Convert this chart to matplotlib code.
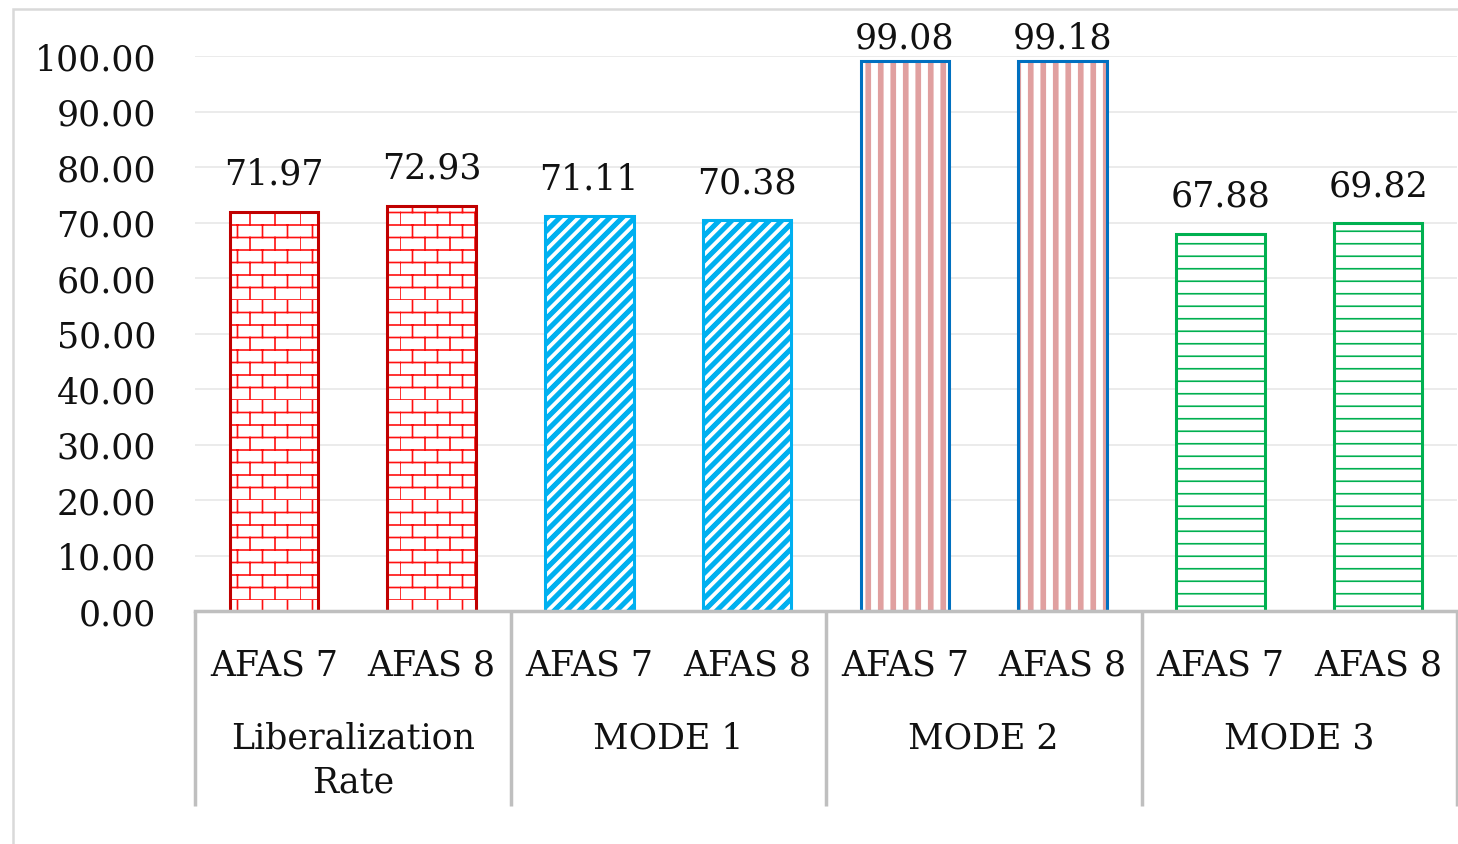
import warnings
import numpy as np
import matplotlib
matplotlib.use("Agg")
import matplotlib.pyplot as plt
from matplotlib import hatch as mhatch
from matplotlib.path import Path
from matplotlib.patches import Rectangle
import matplotlib.transforms as mtransforms

warnings.filterwarnings("ignore")

# ---------------- data ----------------
groups = ["Liberalization\nRate", "MODE 1", "MODE 2", "MODE 3"]
sub_labels = ["AFAS 7", "AFAS 8"]
lib_rate = [71.97, 72.93]
mode1 = [71.11, 70.38]
mode2 = [99.08, 99.18]
mode3 = [67.88, 69.82]
yticks = [0, 10, 20, 30, 40, 50, 60, 70, 80, 90, 100]


# ---------------- custom hatches ----------------
def _segments(ch):
    segs = []
    if ch == 'b':  # bricks
        rows = 8
        for i in range(rows):
            y0 = i / rows
            y1 = (i + 1) / rows
            segs.append((0.0, y0, 1.0, y0))
            off = 0.125 if i % 2 else 0.0
            for k in range(4):
                x = k / 4 + off
                segs.append((x, y0, x, y1))
    elif ch == 'h':  # horizontal lines
        n = 8
        for i in range(n):
            y = (i + 0.5) / n
            segs.append((0.0, y, 1.0, y))
    elif ch == 'v':  # thick vertical stripes
        n = 8
        for i in range(n):
            x = (i + 0.3) / n
            for d in (0.0, 0.01, 0.02, 0.03, 0.04):
                segs.append((x + d, 0.0, x + d, 1.0))
    elif ch == 'd':  # thick diagonal stripes
        n = 8
        for i in range(-n, n + 1):
            s = i / n
            for d in (0.0, 0.012, 0.024, 0.036, 0.048):
                segs.append((s + d, 0.0, s + d + 1.0, 1.0))
    return segs


class CustomHatch(mhatch.HatchPatternBase):
    def __init__(self, hatch, density):
        self.segs = []
        for ch in "bhvd":
            if ch in hatch:
                self.segs += _segments(ch)
        self.num_vertices = 2 * len(self.segs)

    def set_vertices_and_codes(self, vertices, codes):
        for i, (x0, y0, x1, y1) in enumerate(self.segs):
            vertices[2 * i] = (x0, y0)
            vertices[2 * i + 1] = (x1, y1)
            codes[2 * i] = Path.MOVETO
            codes[2 * i + 1] = Path.LINETO


mhatch._hatch_types.append(CustomHatch)

plt.rcParams['font.family'] = ['DejaVu Serif']
plt.rcParams['hatch.linewidth'] = 1.2

W, H = 1458, 845
fig = plt.figure(figsize=(W / 100, H / 100), dpi=100)
ax = fig.add_axes([195 / W, 1 - 612 / H, (1457 - 195) / W, (612 - 57) / H])

text_color = '#111111'
fs = 25

series = [lib_rate, mode1, mode2, mode3]
styles = [
    dict(hatch_color='#FF1010', edge='#C00000', hatch='b'),
    dict(hatch_color='#00B0F0', edge='#00B0F0', hatch='d'),
    dict(hatch_color='#E0A0A0', edge='#0070C0', hatch='v'),
    dict(hatch_color='#00B050', edge='#00B050', hatch='h'),
]
bw = 0.56
for gi, (vals, st) in enumerate(zip(series, styles)):
    xs = np.arange(2) + 2 * gi
    ax.bar(xs, vals, width=bw, color='white', edgecolor=st['hatch_color'],
           hatch=st['hatch'], linewidth=0, zorder=3)
    ax.bar(xs, vals, width=bw, color='none', edgecolor=st['edge'],
           linewidth=2.2, zorder=4)
    for x, v in zip(xs, vals):
        ax.text(x, min(v + 6.9, 103.3), f"{v:.2f}", ha='center', va='center',
                fontsize=fs, color=text_color, clip_on=False, zorder=5)

ax.set_xlim(-0.5, 7.5)
ax.set_ylim(0, 100)
ax.set_yticks(yticks)
ax.set_yticklabels([f"{t:.2f}" for t in yticks], fontsize=fs, color=text_color)
ax.tick_params(axis='y', length=0, pad=28)
ax.set_xticks(np.arange(8))
ax.set_xticklabels(sub_labels * 4, fontsize=fs, color=text_color)
ax.tick_params(axis='x', length=0, pad=26)

for s in ['left', 'right', 'top']:
    ax.spines[s].set_visible(False)
ax.spines['bottom'].set_color('#BFBFBF')
ax.spines['bottom'].set_linewidth(2.5)
ax.spines['bottom'].set_zorder(6)

ax.yaxis.grid(True, color='#EBEBEB', linewidth=1.4, zorder=0)
ax.set_axisbelow(True)

trans = mtransforms.blended_transform_factory(ax.transData, ax.transAxes)
sep_bottom = -(807 - 612) / (612 - 57)
for xb in [-0.5, 1.5, 3.5, 5.5, 7.5]:
    ax.plot([xb, xb], [0, sep_bottom], transform=trans, color='#BFBFBF',
            linewidth=2.5, clip_on=False, solid_capstyle='butt', zorder=6)

grp_top = -(722 - 612) / (612 - 57)
for gi, g in enumerate(groups):
    ax.text(2 * gi + 0.5, grp_top, g, transform=trans, ha='center', va='top',
            fontsize=fs, color=text_color, linespacing=1.35, clip_on=False)

# outer chart border
fig.patches.append(Rectangle((13 / W, -0.01), 1.02, 1 - 10 / H + 0.01,
                             transform=fig.transFigure, fill=False,
                             edgecolor='#D9D9D9', linewidth=1.8))

fig.savefig("out.png", dpi=100, facecolor='white')
